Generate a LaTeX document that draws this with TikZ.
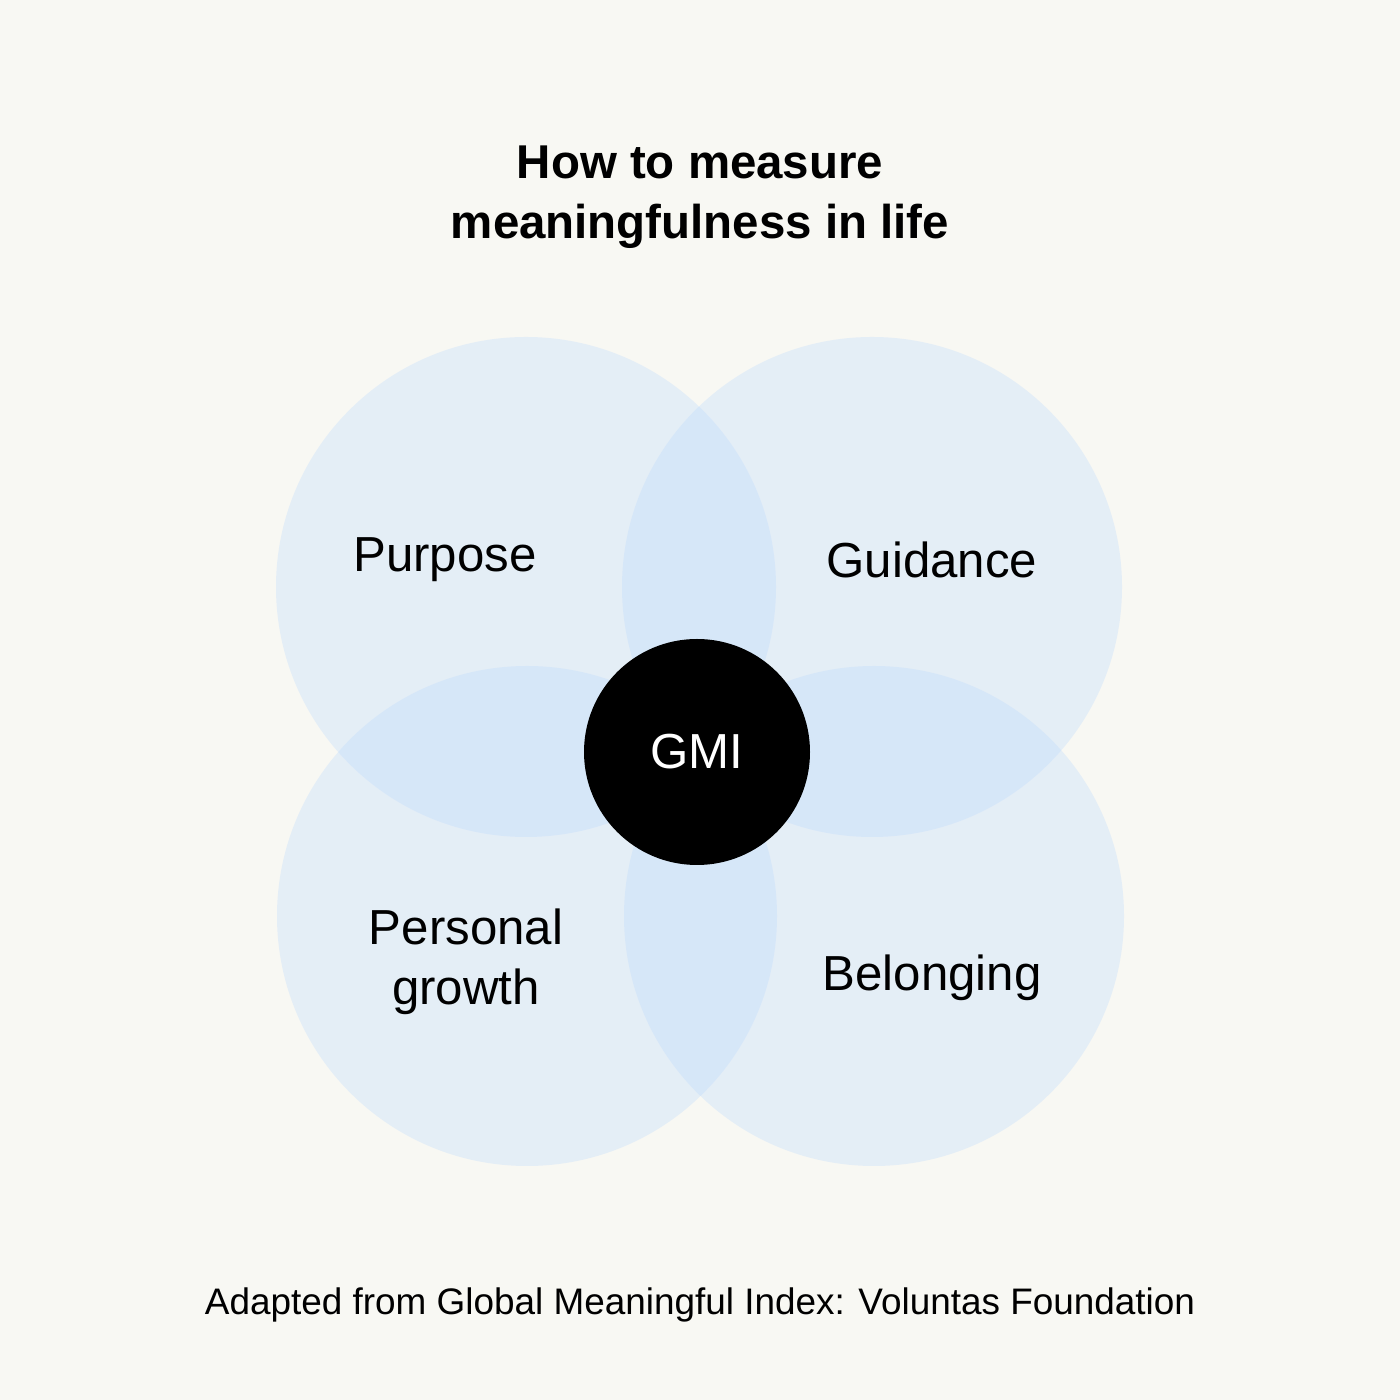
\documentclass[tikz,border=0pt]{standalone}
\usepackage{fontspec}
\setmainfont{Liberation Sans}
\definecolor{paper}{HTML}{F8F8F3}
\definecolor{petal}{HTML}{B8D8FF}
\tikzset{
    petal/.style = { circle, fill=petal, fill opacity=0.3, minimum size=5cm, inner sep=0pt },
    label/.style = { font=\fontsize{14pt}{17pt}\selectfont, align=center, text=black },
    core/.style = { circle, fill=black, minimum size=2.26cm, text=white, font=\fontsize{14pt}{17pt}\selectfont }
}
\begin{document}
\begin{tikzpicture}
    % Background
    \fill[paper] (0,0) rectangle (14,14);
    \useasboundingbox (0,0) rectangle (14,14);

    % Title
    \node (title) at (7,12.03) [font=\bfseries\fontsize{13.5pt}{17pt}\selectfont, align=center] {How to measure\\meaningfulness in life};

    % Circles
    \foreach \name / \x / \y in {purpose/5.26/8.13, guidance/8.72/8.13, growth/5.27/4.84, belonging/8.74/4.84}
      {
        \node[petal] (\name) at (\x,\y) {};
      }
    % Labels
    \foreach \name / \x / \y / \txt in {purposetxt/4.45/8.40/Purpose, guidancetxt/9.32/8.40/Guidance, growthtxt/4.66/4.38/Personal\\growth, belongingtxt/9.32/4.22/Belonging}
      {
        \node[label] (\name) at (\x,\y) {\txt};
      }
    % Centre
    \node[core] (gmi) at (6.97,6.48) {GMI};

    % Source
    \node (source) at (7,0.95) [font=\fontsize{10.5pt}{13pt}\selectfont] {Adapted from Global Meaningful Index: Voluntas Foundation};
\end{tikzpicture}
\end{document}
